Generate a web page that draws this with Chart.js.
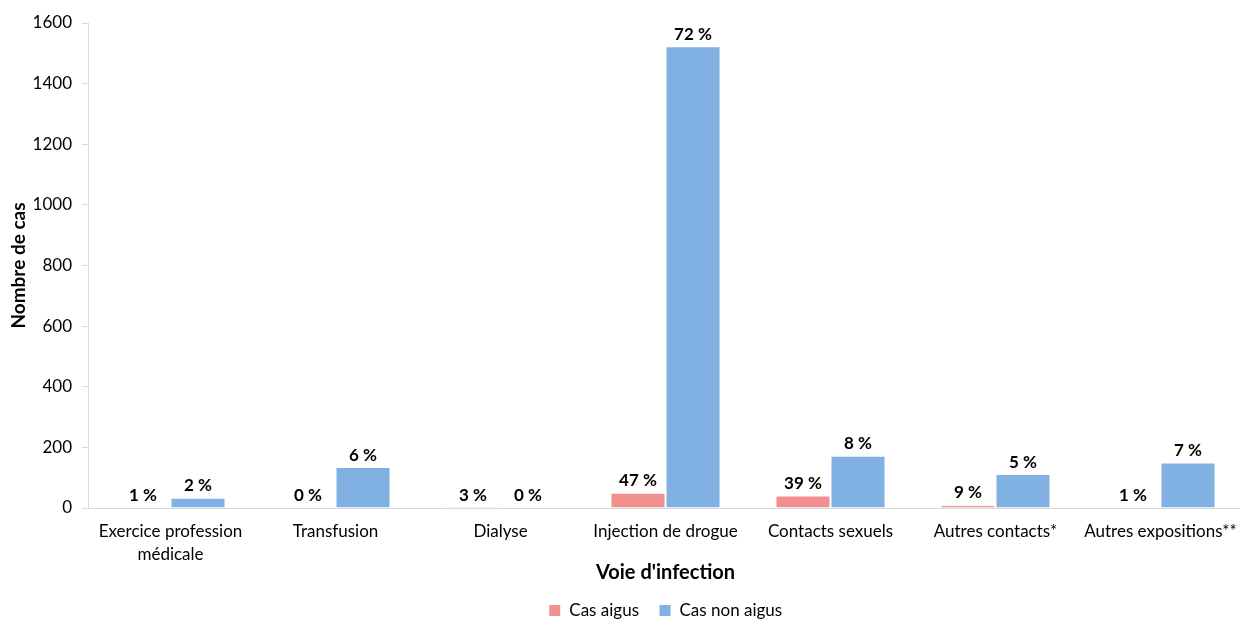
<!DOCTYPE html>
<html lang="fr">
<head>
<meta charset="utf-8">
<title>Voie d'infection</title>
<script src="https://cdn.jsdelivr.net/npm/chart.js@4/dist/chart.umd.min.js"></script>
<style>
  html, body { margin: 0; padding: 0; background: #fff; overflow: hidden; }
  #wrap { width: 1244px; height: 619px; overflow: hidden; }
</style>
</head>
<body>
<div id="wrap"><canvas id="myChart" width="1244" height="629"></canvas></div>
<script>
const categories = [
  ["Exercice profession", "médicale"],
  "Transfusion",
  "Dialyse",
  "Injection de drogue",
  "Contacts sexuels",
  "Autres contacts*",
  "Autres expositions**",
];
const casAigus = [1, 0, 3, 50, 41, 10, 1];
const casNonAigus = [34, 135, 0, 1523, 172, 112, 150];
const pctAigus = ["1 %", "0 %", "3 %", "47 %", "39 %", "9 %", "1 %"];
const pctNonAigus = ["2 %", "6 %", "0 %", "72 %", "8 %", "5 %", "7 %"];
const yTicks = [0, 200, 400, 600, 800, 1000, 1200, 1400, 1600];

const FONT = "Lato, 'Open Sans', sans-serif";
const AXIS_GREY = "#d9d9d9";

// percentage labels written above each bar
const barLabels = {
  id: "barLabels",
  afterDatasetsDraw(chart) {
    const ctx = chart.ctx;
    const labels = [pctAigus, pctNonAigus];
    ctx.save();
    ctx.font = "bold 17px " + FONT;
    ctx.fillStyle = "#000";
    ctx.textAlign = "center";
    ctx.textBaseline = "middle";
    chart.data.datasets.forEach((ds, di) => {
      const meta = chart.getDatasetMeta(di);
      meta.data.forEach((bar, i) => {
        ctx.fillText(labels[di][i], bar.x, bar.y - 12);
      });
    });
    ctx.restore();
  },
};

// the legend sits a little right of centre
const legendShift = {
  id: "legendShift",
  afterLayout(chart) {
    if (chart.legend) {
      chart.legend.left += 44;
      chart.legend.right += 44;
    }
  },
};

document.addEventListener("DOMContentLoaded", function () {
  const ctx = document.getElementById("myChart").getContext("2d");

  new Chart(ctx, {
    type: "bar",
    data: {
      labels: categories,
      datasets: [
        {
          label: "Cas aigus",
          data: casAigus,
          backgroundColor: "#f28f8f",
          borderColor: "#ffffff",
          borderWidth: 1,
          barPercentage: 1.0,
          categoryPercentage: 0.667,
        },
        {
          label: "Cas non aigus",
          data: casNonAigus,
          backgroundColor: "#80b1e2",
          borderColor: "#ffffff",
          borderWidth: 1,
          barPercentage: 1.0,
          categoryPercentage: 0.667,
        },
      ],
    },
    options: {
      responsive: false,
      animation: false,
      layout: { padding: { top: 23, left: 0, right: 1, bottom: 0 } },
      plugins: {
        tooltip: { enabled: false },
        legend: {
          position: "bottom",
          labels: {
            boxWidth: 12,
            boxHeight: 12,
            padding: 20,
            color: "#000",
            font: { family: FONT, size: 17 },
          },
        },
      },
      scales: {
        x: {
          afterFit(axis) {
            axis.height = 74;
          },
          grid: { display: false },
          border: { color: AXIS_GREY, width: 1 },
          ticks: {
            color: "#000",
            font: { family: FONT, size: 17, lineHeight: 1.35 },
            maxRotation: 0,
            autoSkip: false,
            padding: 4,
          },
          title: {
            display: true,
            text: "Voie d'infection",
            color: "#000",
            font: { family: FONT, size: 20, weight: "bold" },
            padding: { top: 0, bottom: -3 },
          },
        },
        y: {
          min: 0,
          max: 1600,
          afterBuildTicks(axis) {
            axis.ticks = yTicks.map((v) => ({ value: v }));
          },
          afterFit(axis) {
            axis.width = 88;
          },
          grid: {
            drawOnChartArea: false,
            drawTicks: true,
            tickLength: 6,
            color: AXIS_GREY,
          },
          border: { color: AXIS_GREY, width: 1 },
          ticks: {
            color: "#000",
            font: { family: FONT, size: 17 },
            padding: 10,
            callback: (v) => String(v),
          },
          title: {
            display: true,
            text: "Nombre de cas",
            color: "#000",
            font: { family: FONT, size: 19, weight: "bold" },
            padding: { top: 7, bottom: 6 },
          },
        },
      },
    },
    plugins: [barLabels, legendShift],
  });
});
</script>
</body>
</html>
